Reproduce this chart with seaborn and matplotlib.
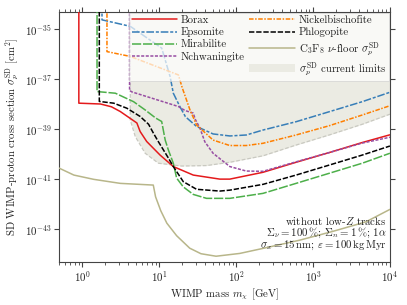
import matplotlib
matplotlib.use("Agg")
import matplotlib.pyplot as plt
import matplotlib.ticker as mticker
from matplotlib.patches import Patch
import numpy as np
import pandas as pd
import seaborn as sns

# ---------------- data ----------------
borax_m = [0.905, 0.905, 1.73, 2.4, 3.13, 5.14, 5.67, 6.9, 10.3, 15.3, 27.8, 61.6, 83, 224, 603, 1622, 4365, 10000]
borax_s = [1e-34, 1.10e-38, 1.02e-38, 7.9e-39, 5.1e-39, 1.78e-39, 8.1e-40, 3.24e-40, 9.3e-41, 3.24e-41,
           1.48e-41, 1.02e-41, 1.02e-41, 1.91e-41, 4.8e-41, 1.17e-40, 2.95e-40, 6.0e-40]

epsomite_m = [1.81, 1.81, 4.22, 10.8, 12.0, 13.9, 15.3, 18.6, 22.0, 30.7, 50.3, 83, 136, 224, 603, 1622, 4365, 10000]
epsomite_s = [1e-34, 2.34e-35, 1.29e-35, 1.74e-36, 5.9e-37, 1.26e-37, 2.75e-38, 8.1e-39, 3.16e-39, 1.29e-39,
              6.5e-40, 5.4e-40, 5.9e-40, 9.3e-40, 2.0e-39, 5.0e-39, 1.26e-38, 3.0e-38]

mirabilite_m = [1.56, 1.56, 2.7, 4.66, 6.59, 9.0, 10.8, 12.0, 13.2, 15.3, 16.9, 20.6, 27.8, 41.3, 83, 224, 603, 1622, 4365, 10000]
mirabilite_s = [1e-34, 3.2e-38, 2.75e-38, 1.26e-38, 5.9e-39, 2.82e-39, 2.04e-39, 3.7e-40, 1.48e-40, 4.4e-41,
                1.12e-41, 5.0e-42, 2.5e-42, 1.74e-42, 1.74e-42, 2.75e-42, 6.9e-42, 1.74e-41, 4.4e-41, 1.10e-40]

nchwaningite_m = [4.13, 4.13, 4.43, 17.8, 21.7, 27.8, 29.5, 33.9, 39.3, 50.3, 83, 136, 224, 603, 1622, 4365, 10000]
nchwaningite_s = [1e-34, 3.55e-38, 3.1e-38, 8.1e-39, 5.6e-39, 4.4e-39, 2.5e-39, 1.12e-39, 3.16e-40, 1.10e-40,
                  3.24e-41, 2.14e-41, 2.09e-41, 5.0e-41, 1.17e-40, 2.8e-40, 4.8e-40]

nickel_m = [2.1, 2.1, 4.22, 17.8, 20.0, 25.2, 30.7, 50.3, 83, 136, 224, 603, 1622, 4365, 10000]
nickel_s = [1e-34, 1.26e-36, 8.1e-37, 1.48e-37, 4.5e-38, 5.9e-39, 1.48e-39, 3.7e-40, 2.24e-40, 2.24e-40,
            2.75e-40, 5.9e-40, 1.38e-39, 3.7e-39, 8.7e-39]

phlogopite_m = [1.67, 1.67, 2.57, 3.82, 5.67, 7.3, 8.45, 9.8, 11.4, 13.2, 15.3, 20.6, 30.7, 61.6, 83, 224, 603, 1622, 4365, 10000]
phlogopite_s = [1e-34, 1.29e-38, 1.10e-38, 6.9e-39, 3.24e-39, 1.58e-39, 6.9e-40, 3.16e-40, 1.48e-40, 7.1e-41,
                3.24e-41, 8.1e-42, 4.0e-42, 3.4e-42, 3.7e-42, 6.3e-42, 1.48e-41, 3.7e-41, 9.3e-41, 2.14e-40]

floor_m = [0.5, 0.78, 1.41, 3.13, 8.4, 9.0, 10.5, 12.6, 16.9, 25.0, 35.0, 55.0, 112, 246, 667, 1800, 4870, 10000]
floor_s = [2.82e-41, 1.48e-41, 1.0e-41, 6.9e-42, 5.9e-42, 2.0e-42, 5.6e-43, 1.78e-43, 5.6e-44, 1.78e-44,
           1.07e-44, 8.5e-45, 1.10e-44, 1.86e-44, 3.7e-44, 8.3e-44, 2.0e-43, 6.3e-43]

limits_m = [4.22, 4.22, 4.9, 6.59, 9.8, 19.6, 41.3, 83, 224, 603, 1622, 4365, 10000]
limits_s = [1e-34, 2.34e-39, 5.1e-40, 1.10e-40, 4.4e-41, 3.4e-41, 3.55e-41, 4.8e-41, 8.7e-41, 2.34e-40,
            5.9e-40, 1.58e-39, 4.0e-39]
limits_top = 1e-30

x_ticks = [1, 10, 100, 1000, 10000]
y_ticks = [1e-43, 1e-41, 1e-39, 1e-37, 1e-35]

annotation = ["without low-$Z$ tracks",
              r"$\Sigma_\nu = 100\,\%$; $\Sigma_n = 1\,\%$; $1\alpha$",
              r"$\sigma_x = 15\,\mathrm{nm}$; $\varepsilon = 100\,\mathrm{kg\,Myr}$"]

# ---------------- style ----------------
sns.set_style("ticks")
plt.rcParams.update({
    "font.family": ["cmr10", "DejaVu Serif"],
    "mathtext.fontset": "cm",
    "axes.unicode_minus": False,
    "axes.formatter.use_mathtext": True,
    "font.size": 7.8,
    "axes.edgecolor": "#444444",
    "axes.linewidth": 0.8,
    "xtick.color": "#444444",
    "ytick.color": "#444444",
    "xtick.labelcolor": "#222222",
    "ytick.labelcolor": "#222222",
    "text.color": "#222222",
    "axes.labelcolor": "#222222",
})

fig = plt.figure(figsize=(4.07, 3.05), dpi=100)
ax = fig.add_axes([0.145, 0.141, 0.813, 0.821])

LW = 1.1
series = [
    ("Borax", borax_m, borax_s, "#e41a1c", "-"),
    ("Epsomite", epsomite_m, epsomite_s, "#377eb8", (0, (5, 1.2, 2, 1.2))),
    ("Mirabilite", mirabilite_m, mirabilite_s, "#4daf4a", (0, (6, 1.2))),
    ("Nchwaningite", nchwaningite_m, nchwaningite_s, "#984ea3", (0, (2, 1))),
    ("Nickelbischofite", nickel_m, nickel_s, "#ff7f00", (0, (3, 1, 1, 1))),
    ("Phlogopite", phlogopite_m, phlogopite_s, "black", (0, (3.5, 1.2))),
    (r"C$_3$F$_8$ $\nu$-floor $\sigma_p^{\rm SD}$", floor_m, floor_s, "#b8b68a", "-"),
]

# current limits shading
lim_df = pd.DataFrame({"m": limits_m, "s": limits_s})
ax.fill_between(lim_df["m"], lim_df["s"], limits_top, color="#ebebe3", lw=0, zorder=1)
sns.lineplot(data=lim_df, x="m", y="s", ax=ax, sort=False, estimator=None,
             color="#c9c9c1", lw=0.9, linestyle=(0, (3, 1.5)), zorder=1.5)

handles = []
for name, m, s, col, ls in series:
    df = pd.DataFrame({"m": m, "s": s})
    sns.lineplot(data=df, x="m", y="s", ax=ax, sort=False, estimator=None,
                 color=col, lw=LW, linestyle=ls, zorder=3)
    handles.append(ax.lines[-1])
labels = [s[0] for s in series]
handles.append(Patch(facecolor="#ebebe3", edgecolor="none"))
labels.append(r"$\sigma_p^{\rm SD}$ current limits")

ax.set_xscale("log")
ax.set_yscale("log")
ax.set_xlim(0.5, 1e4)
ax.set_ylim(5e-45, 5e-35)
ax.set_xticks(x_ticks)
ax.xaxis.set_minor_locator(mticker.LogLocator(base=10, subs=np.arange(2, 10)))
ax.xaxis.set_minor_formatter(mticker.NullFormatter())
ax.set_yticks(y_ticks)
ax.yaxis.set_minor_locator(mticker.NullLocator())
ax.xaxis.set_major_formatter(mticker.LogFormatterSciNotation())
ax.yaxis.set_major_formatter(mticker.LogFormatterSciNotation())
ax.tick_params(which="both", top=True, right=True, direction="out")
ax.tick_params(which="major", length=3.5, width=0.8, labelsize=7.8, pad=2)
ax.tick_params(which="minor", length=2, width=0.6)

ax.set_xlabel(r"WIMP mass $m_\chi$ [GeV]", fontsize=7.8, labelpad=2)
ax.set_ylabel(r"SD WIMP-proton cross section $\sigma_p^{\rm SD}$ [cm$^2$]", fontsize=7.8, labelpad=3)

leg = ax.legend(handles, labels, ncol=2,
                loc="upper right", fontsize=7.8, frameon=True, fancybox=False,
                framealpha=0.7, edgecolor="#cccccc", facecolor="white",
                handlelength=4.2, handletextpad=0.35, columnspacing=0.4,
                labelspacing=0.22, borderpad=0.25, borderaxespad=0.1)
leg.get_frame().set_linewidth(0.6)
leg.set_zorder(5)

ax.text(0.99, 0.04, "\n".join(annotation), transform=ax.transAxes,
        ha="right", va="bottom", fontsize=7.8, linespacing=0.88, zorder=6)

fig.savefig("out.png", dpi=100)
